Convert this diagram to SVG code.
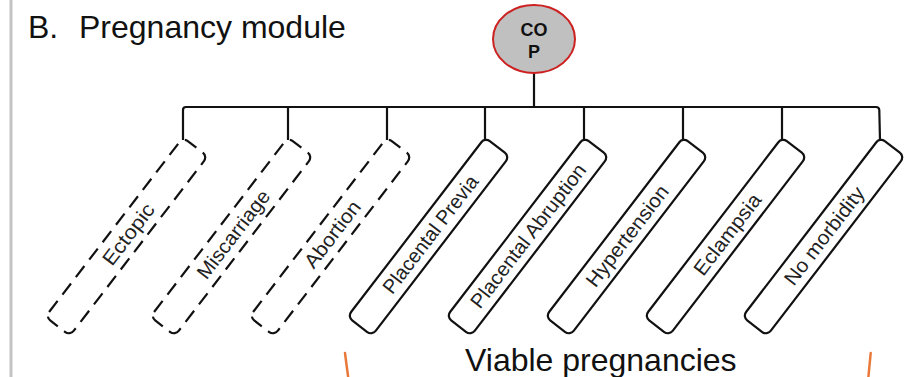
<svg xmlns="http://www.w3.org/2000/svg" width="914" height="377" viewBox="0 0 914 377">
<style>
.title{font-family:"Liberation Sans",Arial,sans-serif;font-size:32px;fill:#111}
.box{fill:#fff;stroke:#111;stroke-width:2.2}
.dash{stroke-dasharray:14 8}
.lbl{font-family:"Liberation Sans",Arial,sans-serif;font-size:20px;fill:#222;text-anchor:middle}
.wire{fill:none;stroke:#111;stroke-width:2.2}
.brace{fill:none;stroke:#e8793a;stroke-width:2.5;stroke-linecap:round}
</style>
<rect width="914" height="377" fill="#fff"/>
<line x1="11" y1="0" x2="11" y2="377" stroke="#c4c4c4" stroke-width="3"/>
<text class="title" x="28" y="37.5">B.</text>
<text class="title" x="79" y="37.5">Pregnancy module</text>

<g id="connectors">
<line class="wire" x1="534" y1="73" x2="534" y2="107"/>
<path class="wire" d="M183 140 V110 Q183 107 186 107 H876 Q879 107 879.3 110 L880 140"/>
<line class="wire" x1="288" y1="107" x2="288" y2="140"/>
<line class="wire" x1="387" y1="107" x2="387" y2="140"/>
<line class="wire" x1="485" y1="107" x2="485" y2="140"/>
<line class="wire" x1="584" y1="107" x2="584" y2="140"/>
<line class="wire" x1="683" y1="107" x2="683" y2="140"/>
<line class="wire" x1="782" y1="107" x2="782" y2="140"/>
</g>

<g id="cop">
<ellipse cx="534" cy="39" rx="41" ry="34" fill="#c0c0c0" stroke="#cc2222" stroke-width="2"/>
<text x="534" y="36" font-family="Liberation Sans,Arial,sans-serif" font-size="18" font-weight="bold" fill="#111" text-anchor="middle">CO</text>
<text x="534" y="58" font-family="Liberation Sans,Arial,sans-serif" font-size="18" font-weight="bold" fill="#111" text-anchor="middle">P</text>
</g>

<g id="ectopic" transform="translate(183 137.5) rotate(-52.5)">
<rect class="box dash" x="-226" y="0" width="226" height="31" rx="6"/>
<text class="lbl" x="-110" y="22.5" textLength="72" lengthAdjust="spacingAndGlyphs">Ectopic</text>
</g>
<g id="miscarriage" transform="translate(288 137.5) rotate(-52.5)">
<rect class="box dash" x="-226" y="0" width="226" height="31" rx="6"/>
<text class="lbl" x="-110" y="22.5" textLength="106" lengthAdjust="spacingAndGlyphs">Miscarriage</text>
</g>
<g id="abortion" transform="translate(387 137.5) rotate(-52.5)">
<rect class="box dash" x="-226" y="0" width="226" height="31" rx="6"/>
<text class="lbl" x="-110" y="22.5" textLength="79" lengthAdjust="spacingAndGlyphs">Abortion</text>
</g>
<g id="placental-previa" transform="translate(485 137.5) rotate(-52.5)">
<rect class="box" x="-226" y="0" width="226" height="31" rx="6"/>
<text class="lbl" x="-110" y="22.5" textLength="143" lengthAdjust="spacingAndGlyphs">Placental Previa</text>
</g>
<g id="placental-abruption" transform="translate(584 137.5) rotate(-52.5)">
<rect class="box" x="-226" y="0" width="226" height="31" rx="6"/>
<text class="lbl" x="-112" y="22.5" textLength="176" lengthAdjust="spacingAndGlyphs">Placental Abruption</text>
</g>
<g id="hypertension" transform="translate(683 137.5) rotate(-52.5)">
<rect class="box" x="-226" y="0" width="226" height="31" rx="6"/>
<text class="lbl" x="-112" y="22.5" textLength="122" lengthAdjust="spacingAndGlyphs">Hypertension</text>
</g>
<g id="eclampsia" transform="translate(782 137.5) rotate(-52.5)">
<rect class="box" x="-226" y="0" width="226" height="31" rx="6"/>
<text class="lbl" x="-110" y="22.5" textLength="97" lengthAdjust="spacingAndGlyphs">Eclampsia</text>
</g>
<g id="no-morbidity" transform="translate(880 137.5) rotate(-52.5)">
<rect class="box" x="-226" y="0" width="226" height="31" rx="6"/>
<text class="lbl" x="-112" y="22.5" textLength="118" lengthAdjust="spacingAndGlyphs">No morbidity</text>
</g>

<g id="viable">
<path class="brace" d="M345 353 Q346.5 365 348.3 378"/>
<path class="brace" d="M870.7 353 Q869.5 365 868.3 378"/>
<text class="title" x="465" y="370.5">Viable pregnancies</text>
</g>
</svg>
